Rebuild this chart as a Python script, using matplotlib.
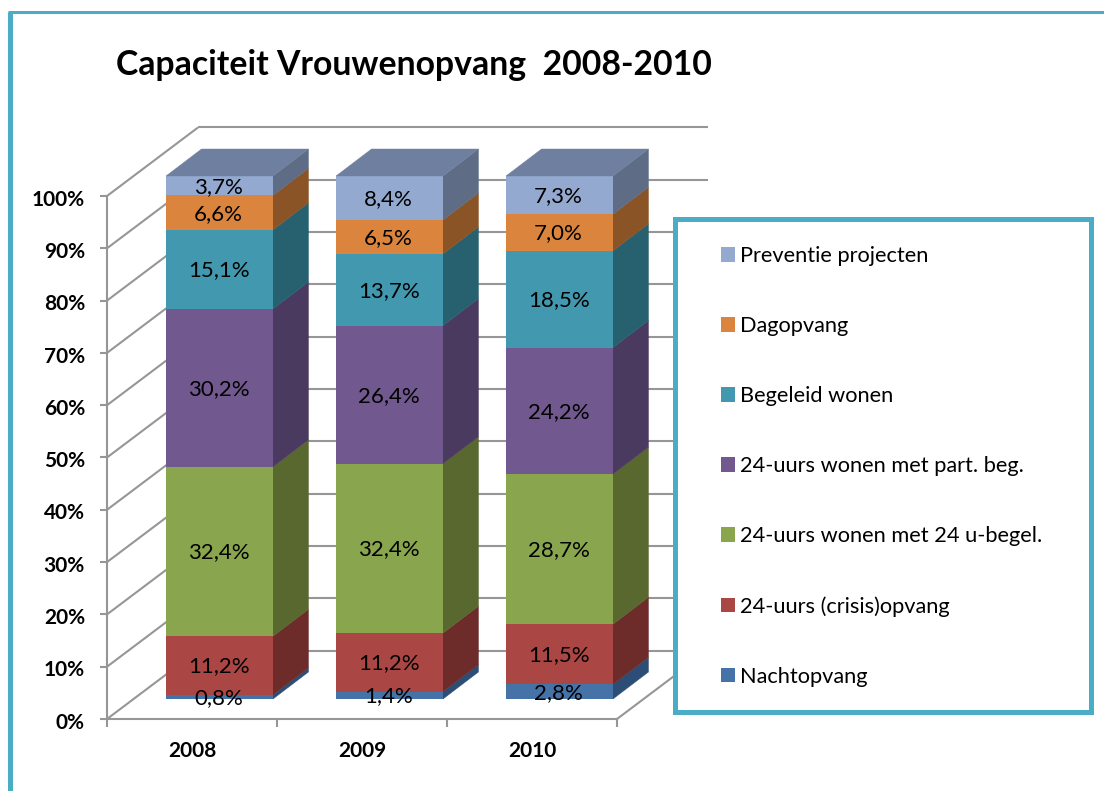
import matplotlib.pyplot as plt
from matplotlib.patches import Polygon, Rectangle

years = ["2008", "2009", "2010"]
series_names = [
    "Nachtopvang",
    "24-uurs (crisis)opvang",
    "24-uurs wonen met 24 u-begel.",
    "24-uurs wonen met part. beg.",
    "Begeleid wonen",
    "Dagopvang",
    "Preventie projecten",
]
nachtopvang = [0.8, 1.4, 2.8]
crisisopvang = [11.2, 11.2, 11.5]
wonen_24u = [32.4, 32.4, 28.7]
wonen_part = [30.2, 26.4, 24.2]
begeleid = [15.1, 13.7, 18.5]
dagopvang = [6.6, 6.5, 7.0]
preventie = [3.7, 8.4, 7.3]
series = [nachtopvang, crisisopvang, wonen_24u, wonen_part, begeleid, dagopvang, preventie]
percent_ticks = [0, 10, 20, 30, 40, 50, 60, 70, 80, 90, 100]

front_colors = ["#4572A7", "#AA4643", "#89A54E", "#71588F", "#4198AF", "#DB843D", "#93A9CF"]
side_colors = ["#2C4D75", "#6D2C2A", "#59682F", "#4A3A60", "#27606F", "#8A5427", "#5E6D85"]
top_color = "#6F7F9F"
grid_color = "#969696"
frame_color = "#4BACC6"

# schaal van het plaatje: 170 px per categorie, 5.23 px per procent
PX_X = 170.0
PX_Y = 5.23
W, H = 1104, 791
X0, Y0 = 219.5, 699  # pixel van x=0, y=0
bar_width = 107 / PX_X
bar_dx, bar_dy = 35.5 / PX_X, 27 / PX_Y
wall_dx, wall_dy = 91 / PX_X, 68.5 / PX_Y
axis_x = (107 - X0) / PX_X
axis_y = (Y0 - 719) / PX_Y

plt.rcParams["font.family"] = "Lato"

fig = plt.figure(figsize=(W / 100, H / 100), dpi=100)
ax = fig.add_axes([0, 0, 1, 1])
ax.set_xlim(-X0 / PX_X, (W - X0) / PX_X)
ax.set_ylim((Y0 - H) / PX_Y, Y0 / PX_Y)
ax.axis("off")

# raster: zijwand, achterwand en vloer
grid = dict(color=grid_color, lw=1.5, zorder=1, solid_capstyle="butt")
right_x = axis_x + len(years)
for p in percent_ticks:
    y = axis_y + p
    ax.plot([axis_x, axis_x + wall_dx], [y, y + wall_dy], **grid)
    ax.plot([axis_x + wall_dx, right_x + wall_dx], [y + wall_dy, y + wall_dy], **grid)
    ax.plot([axis_x - 7 / PX_X, axis_x], [y, y], **grid)
    ax.text(axis_x - 22 / PX_X, y - 0.7, f"{p}%", ha="right", va="center",
            fontsize=15, fontweight="bold")
ax.plot([axis_x, axis_x], [axis_y, axis_y + 100], **grid)
ax.plot([axis_x, right_x], [axis_y, axis_y], **grid)
ax.plot([right_x, right_x + wall_dx], [axis_y, axis_y + wall_dy], **grid)
for i in range(len(years) + 1):
    ax.plot([axis_x + i, axis_x + i], [axis_y, axis_y - 8 / PX_Y], **grid)
for i, year in enumerate(years):
    ax.text(axis_x + i + 0.5, axis_y - 32 / PX_Y, year, ha="center", va="center",
            fontsize=15, fontweight="bold")

# gestapelde balken met zijkant en bovenkant
bottoms = [0.0] * len(years)
handles = []
for values, name, front, side in zip(series, series_names, front_colors, side_colors):
    for i, v in enumerate(values):
        b = bottoms[i]
        right = i + bar_width / 2
        ax.add_patch(Polygon(
            [(right, b), (right + bar_dx, b + bar_dy),
             (right + bar_dx, b + v + bar_dy), (right, b + v)],
            facecolor=side, edgecolor=side, lw=0.3, zorder=3))
    bars = ax.bar(range(len(years)), values, bar_width, bottom=bottoms,
                  color=front, zorder=3, label=name)
    handles.append(bars)
    for i, v in enumerate(values):
        ax.text(i - 0.005, bottoms[i] + v / 2 - 0.2, f"{v:.1f}%".replace(".", ","),
                ha="center", va="center", fontsize=16, zorder=5)
        bottoms[i] += v

for i, top in enumerate(bottoms):
    left = i - bar_width / 2
    right = i + bar_width / 2
    ax.add_patch(Polygon(
        [(left, top), (right, top), (right + bar_dx, top + bar_dy), (left + bar_dx, top + bar_dy)],
        facecolor=top_color, edgecolor=top_color, lw=0.3, zorder=3))

ax.text((116 - X0) / PX_X, (Y0 - 65) / PX_Y, "Capaciteit Vrouwenopvang  2008-2010",
        ha="left", va="center", fontsize=24.3, fontweight="bold")

# kader van de pagina (links en boven)
fig.add_artist(plt.Line2D([9.5 / W, 9.5 / W], [0, 1 - 11.5 / H], color=frame_color, lw=3.6,
                          solid_capstyle="butt"))
fig.add_artist(plt.Line2D([7.5 / W, 1], [1 - 11.5 / H, 1 - 11.5 / H], color=frame_color, lw=2.2,
                          solid_capstyle="butt"))

# legenda in eigen kader
ax.add_patch(Rectangle(((674.5 - X0) / PX_X, (Y0 - 711.5) / PX_Y), 416 / PX_X, 492 / PX_Y,
                       facecolor="white", edgecolor=frame_color, lw=3.6, zorder=6))
legend = ax.legend(handles[::-1], series_names[::-1], loc="upper left",
                   bbox_to_anchor=(699 / W, 1 - 224.5 / H), frameon=False,
                   fontsize=15.7, labelspacing=2.29, handlelength=0.64, handleheight=0.64,
                   handletextpad=0.25, borderpad=0.5)
legend.set_zorder(7)

fig.savefig("out.png", dpi=100)
